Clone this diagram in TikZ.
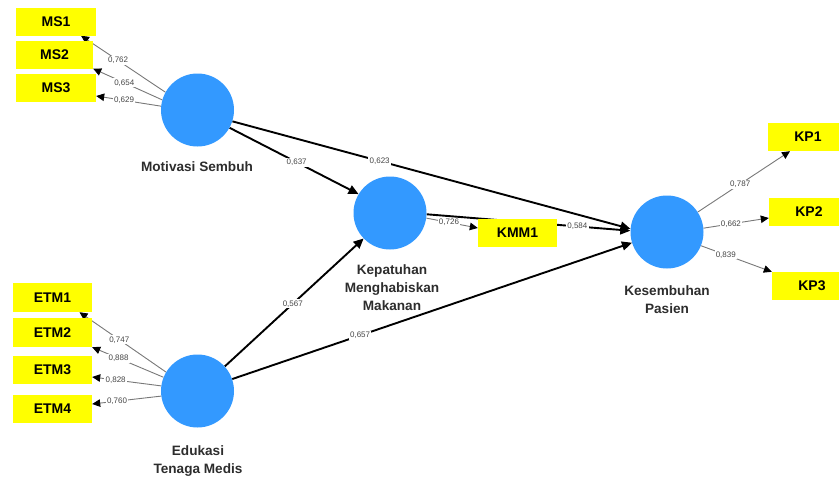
\documentclass[tikz,border=0pt]{standalone}
\usepackage{fontspec}
\setmainfont{Liberation Sans}
\usetikzlibrary{arrows.meta}
\definecolor{lvblue}{RGB}{51,153,255}
\definecolor{indyellow}{RGB}{255,255,0}
\definecolor{lbltext}{RGB}{45,45,45}
\definecolor{coeftext}{RGB}{70,70,70}
\definecolor{outerline}{RGB}{120,120,120}
\pgfdeclarelayer{bg}
\pgfsetlayers{bg,main}
\tikzset{
  latent/.style={circle, fill=lvblue, minimum size=73pt, inner sep=0pt},
  indbox/.style={rectangle, fill=indyellow, minimum width=80pt, minimum height=28pt, inner sep=0pt, font=\fontsize{14}{14}\selectfont\bfseries, text=black},
  lvlabel/.style={align=center, font=\fontsize{13.6}{18}\selectfont\bfseries, text=lbltext},
  coef/.style={fill=white, inner sep=1.2pt, font=\fontsize{8}{8}\selectfont, text=coeftext},
  outer/.style={draw=outerline, line width=0.9pt, -{Triangle[length=8pt,width=7.5pt,color=black]}},
  inner/.style={draw=black, line width=1.9pt, -{Triangle[length=10pt,width=9pt]}},
}
\begin{document}
\begin{tikzpicture}[x=1pt,y=-1pt]
\useasboundingbox (0,0) rectangle (839,479);
% latent variables
\node[latent] (ms) at (197.5,110) {};
\node[latent] (kp) at (390,213) {};
\node[latent] (etm) at (197.5,391) {};
\node[latent] (ks) at (667,232) {};
% labels
\node[lvlabel] (msl) at (197,167) {Motivasi Sembuh};
\node[lvlabel, anchor=center] (kpl) at (392,288) {Kepatuhan\\Menghabiskan\\Makanan};
\node[lvlabel] (etml) at (198,461) {Edukasi\\Tenaga Medis};
\node[lvlabel] (ksl) at (667,299.5) {Kesembuhan\\Pasien};
% indicators
\node[indbox] (ms1) at (56,21.5) {MS1};
\node[indbox, minimum width=77pt] (ms2) at (54.5,54.5) {MS2};
\node[indbox] (ms3) at (56,88) {MS3};
\node[indbox, minimum width=79pt, minimum height=29pt] (etm1) at (52.5,297.5) {ETM1};
\node[indbox, minimum width=79pt, minimum height=29pt] (etm2) at (52.5,332.5) {ETM2};
\node[indbox, minimum width=79pt] (etm3) at (52.5,370) {ETM3};
\node[indbox, minimum width=79pt] (etm4) at (52.5,409) {ETM4};
\node[indbox, minimum width=79pt] (kmm1) at (517.5,233) {KMM1};
\node[indbox] (kp1) at (808,137) {KP1};
\node[indbox] (kp2) at (809,212) {KP2};
\node[indbox] (kp3) at (812,286) {KP3};
\begin{pgfonlayer}{bg}
% outer loadings Motivasi Sembuh
\draw[outer] (ms.151) -- node[coef, pos=0.56] {0,762} ([xshift=25pt]ms1.south);
\draw[outer] (ms.164) -- node[coef, pos=0.55] {0,654} (ms2.south east);
\draw[outer] (ms.174) -- node[coef, pos=0.57] {0,629} ([yshift=-8pt]ms3.east);
% outer loadings Edukasi
\draw[outer] (etm.149) -- node[coef, pos=0.54] {0,747} ([xshift=27pt]etm1.south);
\draw[outer] (etm.158) -- node[coef, pos=0.63] {0,888} (etm2.south east);
\draw[outer] (etm.172) -- node[coef, pos=0.66] {0,828} ([yshift=-7pt]etm3.east);
\draw[outer] (etm.188) -- node[coef, pos=0.64] {0,760} ([yshift=5pt]etm4.east);
% outer loading Kepatuhan
\draw[outer] (kp.-8) -- node[coef, pos=0.44] {0,726} ([yshift=5pt]kmm1.west);
% outer loadings Kesembuhan
\draw[outer] (ks.33) -- node[coef, pos=0.46] {0,787} ([xshift=-18pt]kp1.south);
\draw[outer] (ks.6) -- node[coef, pos=0.42] {0,662} ([yshift=-6pt]kp2.west);
\draw[outer] (ks.-22) -- node[coef, pos=0.35] {0,839} (kp3.north west);
% structural paths
\draw[inner] (ms.-18) -- node[coef, pos=0.37] {0,623} (ks.175);
\draw[inner] (ms.-29) -- node[coef, pos=0.52] {0,637} (kp.149);
\draw[inner] (kp.-2) -- node[coef, pos=0.74] {0,584} (ks.178);
\draw[inner] (etm.42) -- node[coef, pos=0.49] {0,567} (kp.224);
\draw[inner] (etm.19.6) -- node[coef, pos=0.32] {0,657} (ks.197);
\end{pgfonlayer}
\end{tikzpicture}
\end{document}
